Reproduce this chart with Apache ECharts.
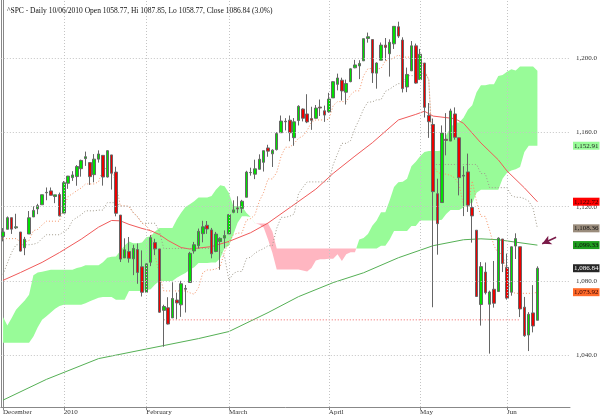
<!DOCTYPE html>
<html><head><meta charset="utf-8">
<script src="https://cdn.jsdelivr.net/npm/echarts@6/dist/echarts.min.js"></script>
<style>html,body{margin:0;padding:0;background:#fff}#c{width:600px;height:416px}</style>
</head><body><div id="c"></div>
<script>
const titleText = '^SPC - Daily 10/06/2010 Open 1058.77, Hi 1087.85, Lo 1058.77, Close 1086.84 (3.0%)';
const dates = ['2009-12-11','2009-12-14','2009-12-15','2009-12-16','2009-12-17','2009-12-18','2009-12-21','2009-12-22','2009-12-23','2009-12-24','2009-12-28','2009-12-29','2009-12-30','2009-12-31',
'2010-01-04','2010-01-05','2010-01-06','2010-01-07','2010-01-08','2010-01-11','2010-01-12','2010-01-13','2010-01-14','2010-01-15','2010-01-19','2010-01-20','2010-01-21','2010-01-22','2010-01-25','2010-01-26','2010-01-27','2010-01-28','2010-01-29',
'2010-02-01','2010-02-02','2010-02-03','2010-02-04','2010-02-05','2010-02-08','2010-02-09','2010-02-10','2010-02-11','2010-02-12','2010-02-16','2010-02-17','2010-02-18','2010-02-19','2010-02-22','2010-02-23','2010-02-24','2010-02-25','2010-02-26',
'2010-03-01','2010-03-02','2010-03-03','2010-03-04','2010-03-05','2010-03-08','2010-03-09','2010-03-10','2010-03-11','2010-03-12','2010-03-15','2010-03-16','2010-03-17','2010-03-18','2010-03-19','2010-03-22','2010-03-23','2010-03-24','2010-03-25','2010-03-26','2010-03-29','2010-03-30','2010-03-31',
'2010-04-01','2010-04-05','2010-04-06','2010-04-07','2010-04-08','2010-04-09','2010-04-12','2010-04-13','2010-04-14','2010-04-15','2010-04-16','2010-04-19','2010-04-20','2010-04-21','2010-04-22','2010-04-23','2010-04-26','2010-04-27','2010-04-28','2010-04-29','2010-04-30',
'2010-05-03','2010-05-04','2010-05-05','2010-05-06','2010-05-07','2010-05-10','2010-05-11','2010-05-12','2010-05-13','2010-05-14','2010-05-17','2010-05-18','2010-05-19','2010-05-20','2010-05-21','2010-05-24','2010-05-25','2010-05-26','2010-05-27','2010-05-28',
'2010-06-01','2010-06-02','2010-06-03','2010-06-04','2010-06-07','2010-06-08','2010-06-09','2010-06-10'];
const open = [1103.96,1107.84,1114.11,1108.61,1106.36,1097.86,1105.31,1114.51,1118.84,1121.08,1127.53,1128.55,1125.53,1126.60,
1116.56,1132.66,1135.71,1136.27,1140.52,1145.96,1143.81,1137.31,1145.68,1147.72,1136.03,1147.95,1138.68,1115.49,1092.40,1095.80,1091.94,1096.93,1087.61,
1073.89,1090.05,1100.67,1097.25,1064.12,1065.51,1060.06,1069.68,1067.10,1075.95,1079.13,1096.14,1099.03,1105.49,1110.00,1107.49,1095.89,1101.24,1103.10,
1105.36,1117.01,1119.36,1119.12,1125.12,1138.40,1137.56,1140.22,1143.96,1151.71,1148.53,1150.83,1159.94,1166.13,1166.68,1157.25,1166.47,1172.70,1170.03,1167.58,1167.71,1173.75,1171.75,
1171.23,1178.71,1186.01,1188.23,1181.75,1187.47,1194.94,1195.94,1198.69,1210.77,1210.17,1192.06,1199.04,1207.16,1202.52,1207.87,1217.07,1209.92,1184.59,1193.30,1206.77,
1188.58,1197.50,1169.24,1164.38,1127.04,1122.27,1156.39,1155.43,1170.04,1157.19,1136.52,1138.78,1119.57,1107.34,1067.26,1084.78,1067.42,1075.51,1074.27,1102.59,
1087.30,1073.89,1098.82,1098.43,1065.84,1050.81,1062.75,1058.77];
const high = [1108.50,1114.76,1114.11,1116.21,1106.36,1103.74,1117.68,1120.27,1121.58,1126.48,1130.38,1130.38,1126.42,1127.64,
1133.87,1136.63,1139.19,1142.46,1145.39,1149.74,1143.81,1148.40,1150.41,1147.77,1150.45,1147.95,1141.58,1115.49,1102.97,1103.69,1099.51,1100.22,1096.45,
1089.38,1104.73,1102.72,1097.25,1067.13,1071.20,1079.28,1073.67,1080.04,1077.81,1095.67,1101.03,1108.24,1112.42,1112.29,1108.58,1106.42,1103.50,1107.24,
1116.11,1123.46,1125.64,1123.73,1139.38,1141.05,1145.37,1148.26,1150.24,1153.41,1150.98,1160.28,1169.20,1167.77,1169.20,1167.82,1174.72,1173.04,1180.69,1173.93,1174.85,1177.83,1174.56,
1181.43,1187.73,1191.80,1189.60,1188.55,1194.66,1199.20,1199.04,1210.65,1213.92,1210.17,1197.87,1208.58,1210.99,1210.27,1217.28,1219.80,1211.38,1195.05,1209.36,1207.99,
1205.13,1197.50,1175.95,1167.58,1135.13,1163.85,1170.48,1172.87,1173.57,1157.19,1141.88,1148.66,1124.27,1107.34,1090.16,1089.95,1074.75,1090.75,1103.52,1102.59,
1094.77,1098.56,1105.67,1098.43,1071.36,1063.15,1077.74,1087.85];
const low = [1101.34,1107.84,1105.35,1107.96,1095.88,1093.88,1105.31,1114.51,1116.00,1121.08,1123.51,1126.08,1121.94,1114.81,
1116.56,1129.66,1133.95,1131.32,1136.22,1142.02,1131.77,1133.18,1143.80,1131.39,1135.77,1129.25,1114.84,1090.18,1092.40,1089.86,1083.11,1078.46,1071.59,
1073.89,1087.96,1093.97,1062.78,1044.50,1056.51,1060.06,1059.34,1060.59,1062.97,1079.13,1094.72,1097.48,1100.80,1105.38,1092.18,1095.50,1086.02,1097.56,
1105.36,1116.51,1116.58,1116.66,1125.12,1136.77,1134.90,1140.09,1138.99,1146.97,1141.45,1150.35,1159.94,1161.16,1155.33,1152.88,1163.83,1166.01,1165.09,1161.48,1167.71,1168.92,1165.77,
1170.69,1178.71,1182.77,1177.25,1175.12,1187.15,1194.71,1188.82,1198.69,1208.50,1186.77,1183.68,1199.04,1198.85,1190.19,1205.10,1211.07,1181.62,1181.81,1193.30,1186.32,
1188.58,1168.12,1157.15,1065.79,1094.15,1122.27,1147.71,1155.43,1156.14,1126.14,1114.96,1117.20,1100.66,1071.58,1055.90,1072.70,1040.78,1065.59,1074.27,1084.78,
1069.89,1072.03,1091.81,1060.50,1049.86,1042.17,1052.25,1058.77];
const close = [1106.41,1114.11,1107.93,1109.18,1096.08,1102.47,1114.05,1118.02,1120.59,1126.48,1127.78,1126.20,1126.42,1115.10,
1132.99,1136.52,1137.14,1141.69,1144.98,1146.98,1136.22,1145.68,1148.46,1136.03,1150.23,1138.04,1116.48,1091.76,1096.78,1092.17,1097.50,1084.53,1073.87,
1089.19,1103.32,1097.28,1063.11,1066.19,1056.74,1070.52,1068.13,1078.47,1075.51,1094.87,1099.51,1106.75,1109.17,1108.01,1094.60,1105.24,1102.94,1104.49,
1115.71,1118.31,1118.79,1122.97,1138.70,1138.50,1140.45,1145.61,1150.24,1149.99,1150.51,1159.46,1166.21,1165.83,1159.90,1165.81,1174.17,1167.72,1165.73,1166.59,1173.22,1173.27,1169.43,
1178.10,1187.44,1189.44,1182.45,1186.44,1194.37,1196.48,1197.30,1210.65,1211.67,1192.13,1197.52,1207.17,1205.94,1208.67,1217.28,1212.05,1183.71,1191.36,1206.78,1186.69,
1202.26,1173.60,1165.87,1128.15,1110.88,1159.73,1155.79,1171.67,1157.44,1135.68,1136.94,1120.80,1115.05,1071.59,1087.69,1073.65,1074.03,1067.95,1103.06,1089.41,
1070.71,1098.38,1102.83,1064.88,1050.47,1062.00,1055.69,1086.84];
const tenkan = [1102.8,1102.8,1102.8,1102.8,1101.1,1101.1,1101.8,1107.1,1107.8,1110.2,
1112.2,1112.2,1112.2,1112.2,1119.6,1125.6,1127.0,1128.7,1130.1,1132.3,
1132.3,1132.3,1133.5,1140.1,1140.9,1139.9,1132.7,1120.4,1120.4,1120.2,
1116.8,1114.5,1111.1,1109.8,1106.6,1093.6,1083.8,1074.6,1074.6,1074.6,
1074.6,1074.6,1074.6,1073.6,1072.8,1076.4,1084.5,1085.9,1085.9,1086.5,
1087.7,1095.8,1101.1,1104.8,1105.8,1105.8,1112.7,1113.6,1115.7,1123.0,
1127.8,1135.0,1135.0,1138.5,1147.2,1152.1,1152.1,1154.1,1156.9,1158.1,
1161.1,1165.6,1166.8,1166.8,1166.8,1167.2,1174.6,1176.7,1176.7,1176.7,
1180.3,1182.5,1182.5,1190.7,1194.5,1194.5,1194.5,1194.5,1198.8,1198.8,
1200.5,1201.8,1200.7,1200.7,1200.7,1200.7,1200.7,1194.0,1188.5,1142.8,
1138.6,1137.6,1137.6,1136.9,1135.5,1131.7,1120.9,1119.7,1133.9,1122.6,
1114.8,1114.8,1107.2,1099.0,1094.8,1094.8,1082.6,1074.1,1073.3,1073.3,
1073.3,1073.3,1073.3,1073.9];
const kijun = [1083.5,1089.5,1095.4,1099.5,1099.5,1099.5,1099.5,1099.8,1100.5,1102.9,
1104.9,1104.9,1104.9,1104.9,1106.6,1108.0,1112.6,1114.2,1115.7,1117.8,
1117.8,1117.8,1118.2,1118.2,1122.2,1122.2,1122.2,1120.4,1120.4,1120.2,
1116.8,1114.5,1111.1,1111.1,1111.1,1111.1,1106.7,1097.5,1097.5,1097.5,
1097.5,1097.5,1097.5,1097.5,1097.5,1097.5,1097.5,1097.5,1097.5,1097.5,
1096.3,1093.1,1080.3,1084.0,1085.1,1085.1,1092.0,1092.8,1095.0,1096.4,
1097.4,1099.0,1099.0,1108.4,1114.3,1114.3,1114.9,1116.1,1126.9,1130.4,
1133.4,1133.4,1133.4,1133.4,1133.4,1133.7,1142.7,1148.6,1154.2,1154.2,
1155.7,1162.2,1167.1,1172.8,1176.5,1176.5,1177.7,1177.7,1182.2,1183.4,
1185.1,1186.4,1186.4,1190.7,1190.7,1190.7,1190.7,1192.8,1188.5,1142.8,
1142.8,1142.8,1142.8,1142.8,1142.8,1142.8,1142.8,1142.8,1142.8,1142.8,
1137.9,1137.9,1130.3,1130.3,1130.3,1130.3,1130.3,1126.1,1125.1,1125.1,
1124.4,1123.0,1119.2,1108.4];
const spanA = [1060.6,1056.0,1060.0,1064.5,1067.0,1069.5,1072.5,1083.0,1084.5,1085.0,
1085.5,1086.0,1086.0,1086.0,1086.0,1086.0,1086.0,1087.0,1087.5,1088.5,
1088.5,1088.5,1088.5,1090.0,1092.5,1093.0,1093.2,1096.2,1099.1,1101.2,
1100.3,1100.3,1100.7,1103.5,1104.1,1106.6,1108.5,1108.5,1108.5,1108.5,
1113.1,1116.8,1119.8,1121.4,1122.9,1125.0,1125.0,1125.0,1125.8,1129.1,
1131.6,1131.1,1127.4,1120.4,1120.4,1120.2,1116.8,1114.5,1111.1,1110.4,
1108.8,1102.3,1095.2,1086.1,1086.1,1086.1,1086.1,1086.1,1086.1,1085.6,
1085.1,1086.9,1091.0,1091.7,1091.7,1092.0,1092.0,1094.4,1090.7,1094.4,
1095.4,1095.4,1102.3,1103.2,1105.3,1109.7,1112.6,1117.0,1117.0,1123.5,
1130.7,1133.2,1133.5,1135.1,1141.9,1144.2,1147.2,1149.5,1150.1,1150.1,
1150.1,1150.4,1158.6,1162.6,1165.4,1165.4,1168.0,1172.3,1174.8,1181.8,
1185.5,1185.5,1186.1,1186.1,1190.5,1191.1,1192.8,1194.1,1193.5,1195.7,
1195.7,1195.7,1195.7,1193.4];
const spanB = [1046.7,1046.7,1046.7,1046.7,1046.7,1046.7,1046.7,1050.0,1055.0,1059.0,
1061.0,1063.0,1065.0,1066.5,1067.2,1067.2,1067.2,1067.2,1067.2,1068.0,
1069.0,1070.0,1070.9,1071.3,1071.3,1071.3,1069.8,1069.8,1069.8,1074.6,
1074.6,1074.6,1074.6,1074.9,1075.5,1078.0,1079.9,1079.9,1079.9,1079.9,
1081.7,1083.0,1084.3,1086.0,1087.4,1089.6,1089.6,1089.6,1089.9,1089.9,
1092.2,1097.8,1098.9,1104.9,1111.4,1114.9,1114.9,1114.5,1111.0,1111.0,
1111.0,1111.0,1106.6,1097.5,1097.5,1097.5,1097.5,1097.5,1097.5,1097.5,
1097.5,1097.5,1097.5,1097.5,1097.5,1097.5,1097.5,1097.5,1097.5,1097.5,
1097.5,1097.5,1097.5,1097.5,1097.5,1097.5,1097.5,1099.0,1099.0,1102.4,
1106.9,1106.9,1106.9,1106.9,1109.6,1109.6,1112.6,1112.6,1112.6,1112.6,
1112.6,1113.0,1116.1,1118.2,1118.2,1118.2,1119.6,1121.9,1121.9,1127.6,
1129.2,1129.2,1129.2,1129.2,1129.2,1135.2,1138.3,1139.6,1140.2,1141.4,
1149.5,1152.9,1152.9,1152.9];
const ma50 = [[0,1080.3],[4,1084.5],[9,1090],[13,1095.3],[18,1102.5],[22,1109],[25,1112.6],[27,1112.4],[29,1110.5],[32,1108.3],[34,1107.1],[36,1105],[38,1101.8],[41,1098],[43,1097.2],[48,1098.5],[52,1101.3],[57,1106],[61,1111.2],[66,1119.5],[72,1129.5],[76,1138],[81,1147.3],[85,1154.5],[91,1166.8],[95,1169.8],[97,1171.5],[99,1168.9],[104,1167.5],[106,1165],[110,1154.4],[114,1145.3],[116,1139.3],[120,1130.2],[123,1122.7]];
const ma200 = [[0,1015.7],[10,1026.9],[22,1038.1],[45,1048.9],[52,1052.7],[61,1062.9],[68,1071.5],[76,1079.1],[83,1084.4],[91,1092.5],[99,1099],[106,1102.2],[110,1102.7],[114,1102.2],[123,1099.3]];
const supportLevel = 1059.0, supportFrom = 37, supportTo = 119;
const yTicks = [1040, 1080, 1120, 1160, 1200];
const monthIdx = [0, 14, 33, 52, 75, 96, 116];
const monthText = ['December', '2010', 'February', 'March', 'April', 'May', 'Jun'];
const tagValues = [1152.91, 1122.72, 1108.36, 1099.33, 1086.84, 1073.92];
const arrowFrom = [127.3, 1103.6], arrowTo = [124.1, 1100.0];

// ---- styles ----
const FONT = "'Liberation Serif','DejaVu Serif',serif";
const tagBg = ['#98FB98', '#FF0000', '#9a8c7c', '#1f9e1f', '#262626', '#FF6A2A'];
const tagFg = ['#222', '#300', '#111', '#111', '#fff', '#300'];
const SLOTS = 131;

function fmt(v, d) {
  const s = v.toFixed(d); const parts = s.split('.');
  return parts[0].replace(/\B(?=(\d{3})+(?!\d))/g, ',') + (parts[1] ? '.' + parts[1] : '');
}
const categories = dates.slice();
for (let k = dates.length; k < SLOTS; k++) categories.push('pad' + k);
const candleData = dates.map((d, i) => [open[i], close[i], low[i], high[i]]);

function cloudRuns() {
  const runs = []; let cur = null; let prevD = null;
  for (let i = 0; i < spanA.length; i++) {
    const d = spanA[i] - spanB[i]; const s = d >= 0 ? 1 : -1;
    if (cur && s !== cur.sign) {
      const t = prevD / (prevD - d); const xc = i - 1 + t; const yc = spanA[i - 1] + t * (spanA[i] - spanA[i - 1]);
      cur.top.push([xc, yc]); cur.bot.push([xc, yc]); runs.push(cur);
      cur = { sign: s, top: [[xc, yc]], bot: [[xc, yc]] };
    }
    if (!cur) cur = { sign: s, top: [], bot: [] };
    cur.top.push([i, spanA[i]]); cur.bot.push([i, spanB[i]]);
    prevD = d;
  }
  runs.push(cur); return runs;
}
const runs = cloudRuns();
const isMonth = (idx) => monthIdx.indexOf(idx) >= 0;

const chart = echarts.init(document.getElementById('c'), null, { renderer: 'canvas' });
chart.setOption({
  animation: false,
  backgroundColor: '#fff',
  title: { text: titleText, left: 2, top: 2, textStyle: { fontSize: 7.5, fontWeight: 'normal', fontFamily: FONT, color: '#111' } },
  grid: { left: 0, right: 28, top: 0, bottom: 9 },
  xAxis: [
    { type: 'category', data: categories, boundaryGap: true,
      axisLine: { lineStyle: { color: '#888', width: 1 } },
      axisTick: { show: true, alignWithLabel: true, interval: (i) => isMonth(i), length: 3, lineStyle: { color: '#888' } },
      axisLabel: { interval: (i) => isMonth(i), formatter: (v, i) => { const k = monthIdx.indexOf(i); return k >= 0 ? monthText[k] : ''; },
        align: 'left', margin: 2, fontSize: 7, fontFamily: FONT, color: '#333' },
      splitLine: { show: false } },
    { type: 'value', min: -0.5, max: SLOTS - 0.5, show: false }
  ],
  yAxis: [
    { type: 'value', position: 'right', min: 1012, max: 1231.5, interval: 4, scale: true,
      axisLine: { show: true, lineStyle: { color: '#888' } }, axisTick: { show: false },
      splitLine: { show: false },
      axisLabel: { margin: 6, fontSize: 7, fontFamily: FONT, color: '#333',
        formatter: (v) => yTicks.some(t => Math.abs(t - v) < 0.01) ? fmt(v, 1) : '' } },
    { type: 'value', position: 'left', min: 1012, max: 1231.5, show: true,
      axisLine: { show: true, lineStyle: { color: '#888' } }, axisTick: { show: false }, axisLabel: { show: false }, splitLine: { show: false } }
  ],
  series: [
    { type: 'line', name: 'grid', xAxisIndex: 1, yAxisIndex: 0, data: [[-5, 1100]], symbol: 'none', z: 0, silent: true,
      lineStyle: { opacity: 0 },
      markLine: { silent: true, symbol: 'none', label: { show: false }, animation: false,
        lineStyle: { color: '#c4c4c4', type: [1, 2], width: 1 },
        data: yTicks.map(v => ({ yAxis: v })).concat(monthIdx.slice(1).map(i => ({ xAxis: i }))) } },
    { type: 'custom', name: 'cloud', xAxisIndex: 1, yAxisIndex: 0, z: 1, silent: true,
      data: runs.map(r => [r.top[0][0], r.top[0][1]]), encode: { x: 0, y: 1 },
      renderItem: (params, api) => {
        const r = runs[params.dataIndex];
        const pts = r.top.concat(r.bot.slice().reverse()).map(p => api.coord(p));
        return { type: 'polygon', shape: { points: pts }, style: { fill: r.sign > 0 ? '#98FB98' : '#FFB6C1' } };
      } },
    { type: 'line', name: 'MA200', xAxisIndex: 1, yAxisIndex: 0, data: ma200, symbol: 'none', z: 2, silent: true,
      lineStyle: { color: '#55b055', width: 1 } },
    { type: 'line', name: 'MA50', xAxisIndex: 1, yAxisIndex: 0, data: ma50, symbol: 'none', z: 2, silent: true,
      lineStyle: { color: '#f05a5a', width: 1 },
      markLine: { silent: true, symbol: ['none', 'arrow'], symbolSize: [7, 9], label: { show: false }, animation: false,
        lineStyle: { color: '#7a1a48', width: 1.6, type: 'solid' },
        data: [[{ coord: arrowFrom }, { coord: arrowTo }]] } },
    { type: 'line', name: 'Kijun', xAxisIndex: 1, yAxisIndex: 0, data: kijun.map((v, i) => [i, v]), symbol: 'none', z: 2, silent: true,
      lineStyle: { color: '#a09a8c', width: 1, type: [1, 2] } },
    { type: 'line', name: 'Tenkan', xAxisIndex: 1, yAxisIndex: 0, data: tenkan.map((v, i) => [i, v]), symbol: 'none', z: 2, silent: true,
      lineStyle: { color: '#f49468', width: 1, type: [1, 2] } },
    { type: 'line', name: 'Support', xAxisIndex: 1, yAxisIndex: 0, data: [[supportFrom, supportLevel], [supportTo, supportLevel]], symbol: 'none', z: 2, silent: true,
      lineStyle: { color: '#f06060', width: 1, type: [1, 2] } },
    { type: 'candlestick', name: 'SPC', xAxisIndex: 0, yAxisIndex: 0, data: candleData, barWidth: 3, z: 3, silent: true,
      itemStyle: { color: '#00e000', color0: '#ee0000', borderColor: '#666', borderColor0: '#666', borderWidth: 1 } },
    { type: 'line', name: 'tags', xAxisIndex: 1, yAxisIndex: 0, data: [[-5, 1100]], symbol: 'none', z: 5, silent: true, clip: false,
      lineStyle: { opacity: 0 },
      markLine: { silent: true, symbol: 'none', animation: false, lineStyle: { color: 'rgba(0,0,0,0)', width: 1 },
        data: tagValues.map((v, k) => ({ yAxis: v,
          label: { show: true, position: 'end', distance: 3, formatter: fmt(v, 2), fontSize: 7, fontFamily: FONT,
            color: tagFg[k], backgroundColor: tagBg[k], padding: [1, 1, 0, 1] } })) } }
  ]
});
</script></body></html>
